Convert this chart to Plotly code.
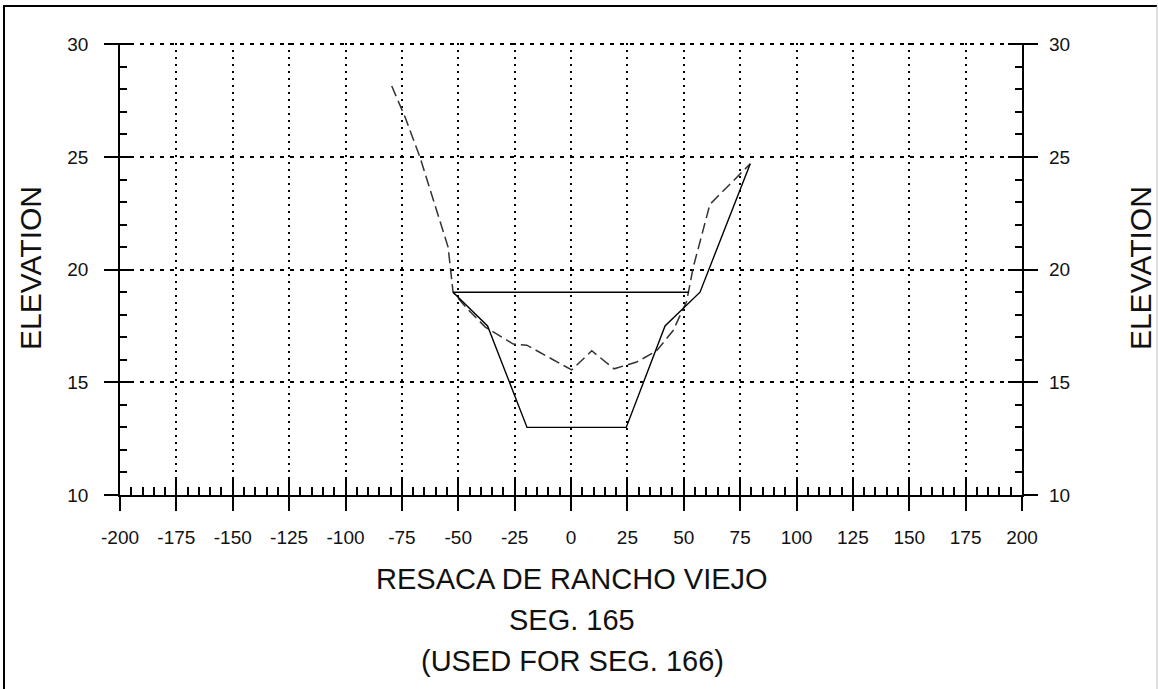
import plotly.graph_objects as go

# ---- data ----
design_x = [-52.3, -37, -19.5, 24.5, 41.7, 57.2, 79.5]
design_y = [19.0, 17.5, 13.0, 13.0, 17.5, 19.0, 24.7]

water_x = [-52.3, 52.3]
water_y = [19.0, 19.0]

ground_x = [-79.5, -73.5, -67.0, -54.5, -52.3, -46.3, -38.0, -25.6, -19.6, 0.3, 9.2, 19.1, 29.1, 38.0, 45.3, 51.3, 54.2, 61.6, 79.5]
ground_y = [28.15, 26.75, 25.0, 21.0, 19.0, 18.3, 17.45, 16.7, 16.65, 15.55, 16.4, 15.6, 15.9, 16.4, 17.3, 18.6, 20.1, 22.9, 24.7]

x_tickvals = [-200, -175, -150, -125, -100, -75, -50, -25, 0, 25, 50, 75, 100, 125, 150, 175, 200]
x_ticktext = ["-200", "-175", "-150", "-125", "-100", "-75", "-50", "-25", "0", "25", "50", "75", "100", "125", "150", "175", "200"]
y_tickvals = [10, 15, 20, 25, 30]
y_ticktext = ["10", "15", "20", "25", "30"]

x_range = [-200, 200]
y_range = [10, 30.06]
x_minor = 5
y_minor = 1

title_lines = ["RESACA DE RANCHO VIEJO", "SEG. 165", "(USED FOR SEG. 166)"]
axis_title = "ELEVATION"

FONT = "Liberation Sans, Arial, Helvetica, sans-serif"

fig = go.Figure()
fig.add_trace(go.Scatter(x=ground_x, y=ground_y, mode="lines",
                         line=dict(color="#333", width=1.5, dash="11px,5px"),
                         hoverinfo="skip", showlegend=False))
fig.add_trace(go.Scatter(x=design_x, y=design_y, mode="lines",
                         line=dict(color="black", width=1.4),
                         hoverinfo="skip", showlegend=False))
fig.add_trace(go.Scatter(x=water_x, y=water_y, mode="lines",
                         line=dict(color="black", width=1.6),
                         hoverinfo="skip", showlegend=False))
# invisible trace to carry the overlaying axes
fig.add_trace(go.Scatter(x=water_x, y=water_y, xaxis="x2", yaxis="y2",
                         mode="lines", line=dict(width=0), opacity=0,
                         hoverinfo="skip", showlegend=False))

tickfont = dict(family=FONT, size=19, color="#111")

fig.update_layout(
    width=1158, height=689,
    margin=dict(l=120, r=136, t=43, b=194),
    paper_bgcolor="white", plot_bgcolor="white",
    showlegend=False,
    xaxis=dict(range=x_range, tickmode="array", tickvals=x_tickvals, ticktext=x_ticktext,
               ticks="outside", ticklen=14,
               tickwidth=1.5, tickcolor="black", showline=True, linecolor="black",
               linewidth=1.5, showgrid=True, gridcolor="black", gridwidth=1.5,
               griddash="2px,5px", zeroline=False, tickfont=tickfont,
               ticklabelstandoff=10, fixedrange=True),
    xaxis2=dict(range=x_range, overlaying="x", anchor="y", side="bottom",
                tickmode="array", tickvals=x_tickvals,
                ticks="inside", ticklen=18, tickwidth=1.5,
                tickcolor="black", showticklabels=False, showgrid=False,
                zeroline=False, showline=False,
                minor=dict(dtick=x_minor, tick0=0, ticks="inside", ticklen=8,
                           tickwidth=1.5, tickcolor="black", showgrid=False),
                fixedrange=True),
    yaxis=dict(range=y_range, tickmode="array", tickvals=y_tickvals, ticktext=y_ticktext,
               ticks="outside", ticklen=14,
               tickwidth=1.5, tickcolor="black", showline=True, linecolor="black",
               linewidth=1.5, mirror="ticks", showgrid=True, gridcolor="black",
               gridwidth=1.5, griddash="4px,6px", zeroline=False, tickfont=tickfont,
               ticklabelstandoff=12, fixedrange=True),
    yaxis2=dict(range=y_range, overlaying="y", anchor="x", side="right",
                tickmode="array", tickvals=y_tickvals, ticktext=y_ticktext,
                ticks="inside", ticklen=14, tickwidth=1.5,
                tickcolor="black", mirror="ticks", showline=False, showgrid=False,
                zeroline=False, tickfont=tickfont, ticklabelstandoff=26,
                minor=dict(dtick=y_minor, tick0=0, ticks="inside", ticklen=7,
                           tickwidth=1.5, tickcolor="black", showgrid=False),
                fixedrange=True),
)

# axis titles
fig.add_annotation(text=axis_title, xref="paper", yref="paper", x=-0.1, y=0.502,
                   textangle=-90, showarrow=False, xanchor="center", yanchor="middle",
                   font=dict(family=FONT, size=30, color="#111"))
fig.add_annotation(text=axis_title, xref="paper", yref="paper", x=1.1308, y=0.502,
                   textangle=-90, showarrow=False, xanchor="center", yanchor="middle",
                   font=dict(family=FONT, size=30, color="#111"))

# title block under the chart
for line, ypix in zip(title_lines, [579, 620, 661]):
    fig.add_annotation(text=line, xref="paper", yref="paper",
                       x=(572 - 120) / 902, y=(495 - ypix) / 452,
                       showarrow=False, xanchor="center", yanchor="middle",
                       font=dict(family=FONT, size=29, color="#111"))

# page frame
fig.add_shape(type="path", xref="paper", yref="paper",
              path="M -0.1286,-0.6 L -0.1286,1.0819 L 1.1497,1.0819",
              line=dict(color="black", width=2))
fig.add_shape(type="line", xref="paper", yref="paper",
              x0=1.1497, x1=1.1497, y0=-0.6, y1=1.0819,
              line=dict(color="#bbbbbb", width=1))

fig.write_html("out.html", config={"displayModeBar": False},
               post_script="document.body.style.margin='0';")
